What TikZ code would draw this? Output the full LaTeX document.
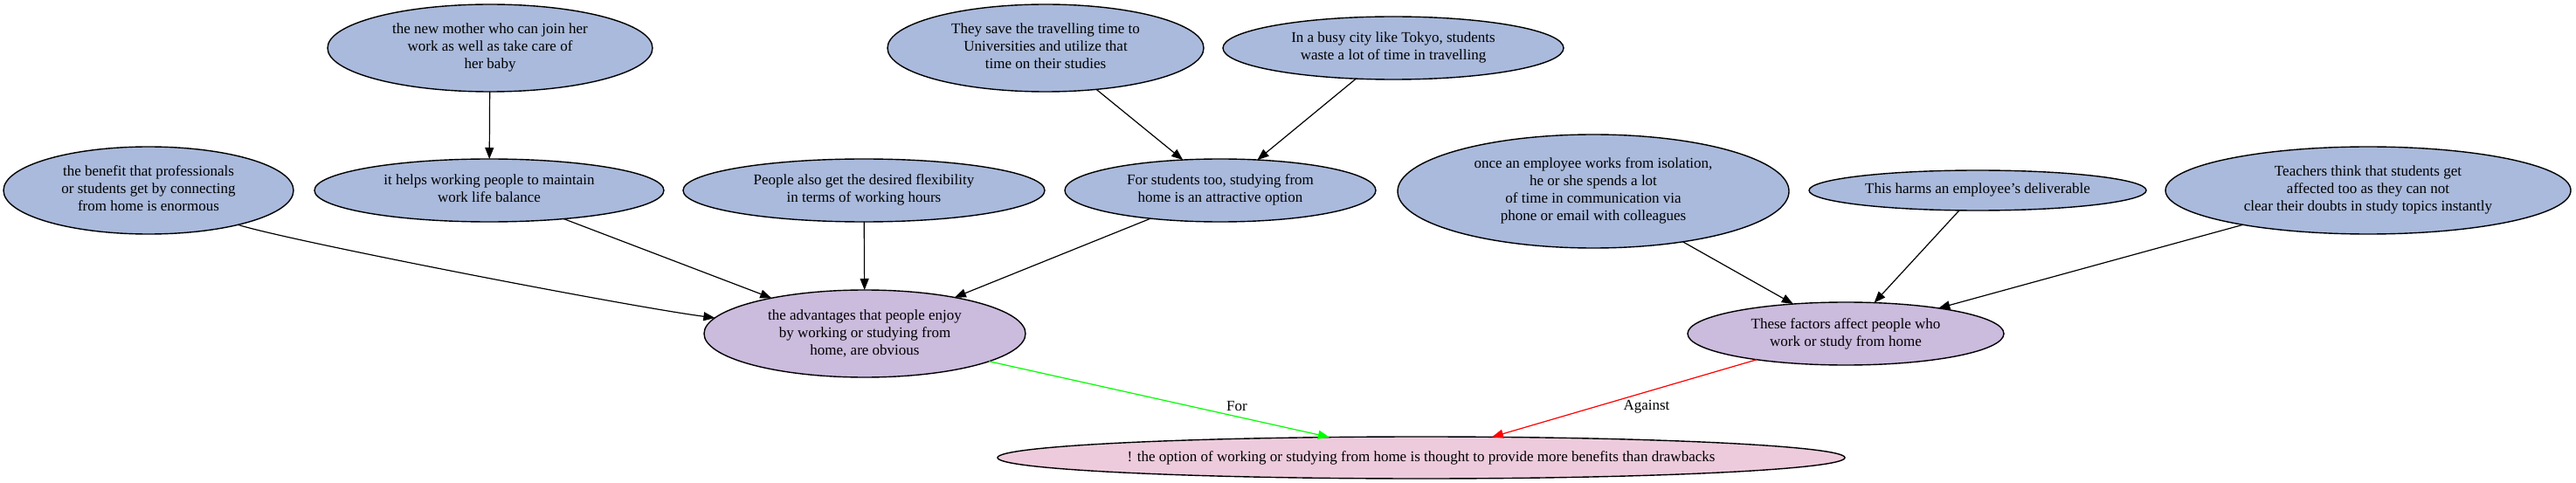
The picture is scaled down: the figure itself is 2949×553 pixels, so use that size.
\documentclass[tikz,border=0pt]{standalone}
\usepackage{fontspec}
\setmainfont{Liberation Serif}
\usetikzlibrary{arrows.meta,shapes.geometric}
\definecolor{nblue}{HTML}{AABADC}
\definecolor{npurp}{HTML}{CBBBDD}
\definecolor{npink}{HTML}{EDCBDC}
\definecolor{egreen}{HTML}{00FF00}
\definecolor{ered}{HTML}{FF0000}
\newcommand{\ntext}[1]{\makebox[0pt]{\begin{tabular}{@{}c@{}}#1\end{tabular}}}
\begin{document}
\begin{tikzpicture}[x=1pt,y=-1pt,
  every node/.style={font=\fontsize{17}{20}\selectfont},
  ell/.style={ellipse, draw, line width=1.4pt, inner sep=0pt, outer sep=0pt},
  bnode/.style={ell, fill=nblue},
  pnode/.style={ell, fill=npurp},
  knode/.style={ell, fill=npink},
  sz/.style 2 args={minimum width=#1pt, minimum height=#2pt},
  arr/.style={-{Triangle[length=13pt,width=10pt]}, line width=1.2pt}
]
\useasboundingbox[fill=white] (0,0) rectangle (2949,553);

\node[bnode, sz={372}{100}] (m) at (561,55) {\ntext{the new mother who can join her\\work as well as take care of\\her baby}};
\node[bnode, sz={362}{100}] (ts) at (1197,55) {\ntext{They save the travelling time to\\Universities and utilize that\\time on their studies}};
\node[bnode, sz={390}{72}] (tk) at (1595,55) {\ntext{In a busy city like Tokyo, students\\waste a lot of time in travelling}};

\node[bnode, sz={332}{100}] (bn) at (170,218) {\ntext{the benefit that professionals\\or students get by connecting\\from home is enormous}};
\node[bnode, sz={400}{72}] (wl) at (560,218) {\ntext{it helps working people to maintain\\work life balance}};
\node[bnode, sz={414}{72}] (fl) at (989,218) {\ntext{People also get the desired flexibility\\in terms of working hours}};
\node[bnode, sz={356}{72}] (st) at (1397,218) {\ntext{For students too, studying from\\home is an attractive option}};
\node[bnode, sz={448}{130}] (em) at (1824,219) {\ntext{once an employee works from isolation,\\he or she spends a lot\\of time in communication via\\phone or email with colleagues}};
\node[bnode, sz={386}{46}] (hm) at (2264,218) {\ntext{This harms an employee's deliverable}};
\node[bnode, sz={464}{100}] (te) at (2711,218) {\ntext{Teachers think that students get\\affected too as they can not\\clear their doubts in study topics instantly}};

\node[pnode, sz={368}{100}] (ad) at (990,382) {\ntext{the advantages that people enjoy\\by working or studying from\\home, are obvious}};
\node[pnode, sz={362}{72}] (fa) at (2113,382) {\ntext{These factors affect people who\\work or study from home}};

\node[knode, sz={970}{48}] (op) at (1627,524) {\ntext{! the option of working or studying from home is thought to provide more benefits than drawbacks}};

\draw[arr] (m) -- (wl);
\draw[arr] (ts) -- (st);
\draw[arr] (tk) -- (st);
\draw[arr] (bn.-21.4) .. controls (332,276) and (719,351) .. (ad.174);
\draw[arr] (wl) -- (ad);
\draw[arr] (fl) -- (ad);
\draw[arr] (st) -- (ad);
\draw[arr] (em) -- (fa);
\draw[arr] (hm) -- (fa);
\draw[arr] (te) -- (fa);
\draw[arr, draw=egreen, fill=egreen] (ad) -- (op);
\draw[arr, draw=ered, fill=ered] (fa) -- (op);

\node (lfor) at (1416,465) {For};
\node (lagainst) at (1885,466) {Against};
\end{tikzpicture}
\end{document}
